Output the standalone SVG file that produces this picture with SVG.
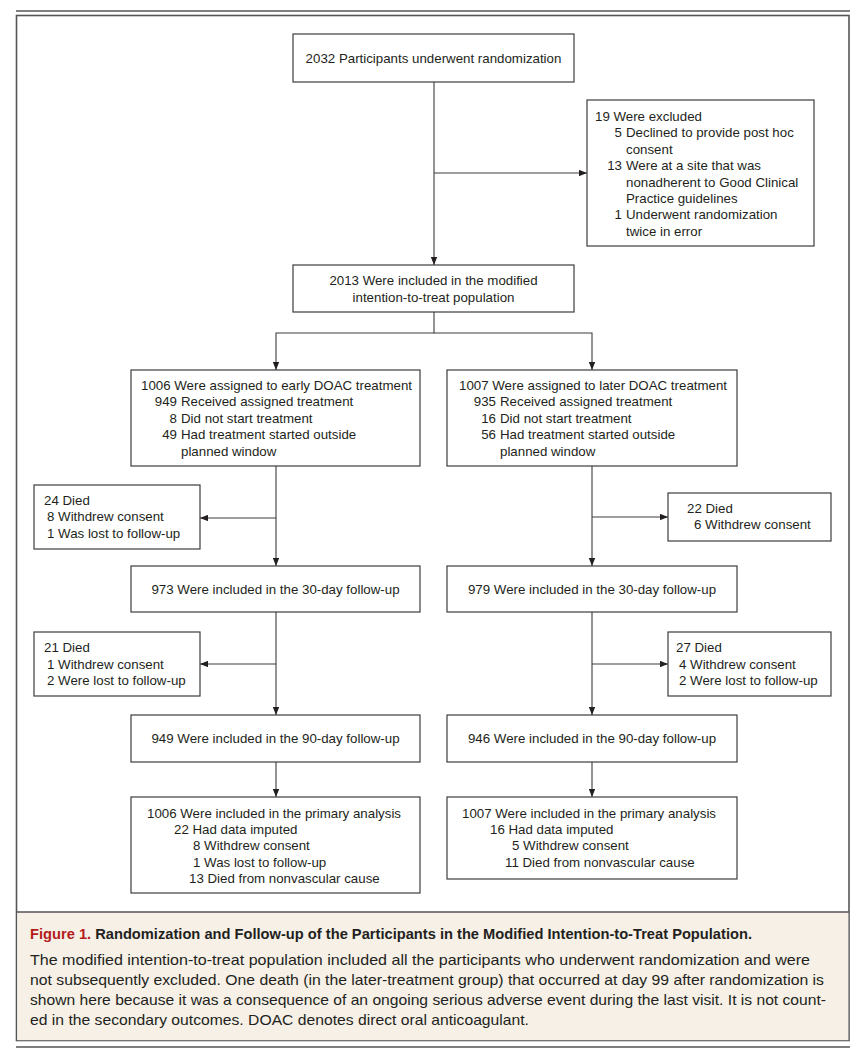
<svg xmlns="http://www.w3.org/2000/svg" width="865" height="1061" viewBox="0 0 865 1061">
<style>
.box{fill:#fff;stroke:#3c3c3c;stroke-width:1.2}
.t{font-family:"Liberation Sans",Arial,sans-serif;font-size:13.3px;fill:#231f20}
.c{text-anchor:middle}
.e{text-anchor:end}
.ln{fill:none;stroke:#3c3c3c;stroke-width:1.1}
.cap{font-family:"Liberation Sans",Arial,sans-serif;font-size:15px;fill:#231f20}
</style>
<defs>
<marker id="ah" viewBox="0 0 10 8" refX="10" refY="4" markerWidth="8" markerHeight="6.4" markerUnits="userSpaceOnUse" orient="auto">
<path d="M0,0 L10,4 L0,8 Z" fill="#231f20"/>
</marker>
</defs>
<rect x="0" y="0" width="865" height="1061" fill="#fff"/>
<line x1="16" y1="11" x2="850" y2="11" stroke="#555" stroke-width="1.6"/>
<rect x="16.5" y="15.5" width="832.5" height="1025" fill="none" stroke="#555" stroke-width="1.6"/>
<rect x="17.3" y="912" width="831" height="128.2" fill="#f6f0e7"/>
<line x1="16.5" y1="912" x2="849" y2="912" stroke="#555" stroke-width="1.6"/>
<line x1="16" y1="1047" x2="850" y2="1047" stroke="#555" stroke-width="1.6"/>

<g id="connectors">
<line class="ln" x1="434" y1="82" x2="434" y2="265" marker-end="url(#ah)"/>
<line class="ln" x1="434" y1="173" x2="587" y2="173" marker-end="url(#ah)"/>
<polyline class="ln" points="434,312 434,333 276,333 276,370" marker-end="url(#ah)"/>
<polyline class="ln" points="434,333 592,333 592,370" marker-end="url(#ah)"/>
<line class="ln" x1="276" y1="466" x2="276" y2="566" marker-end="url(#ah)"/>
<line class="ln" x1="276" y1="518" x2="200" y2="518" marker-end="url(#ah)"/>
<line class="ln" x1="592" y1="466" x2="592" y2="566" marker-end="url(#ah)"/>
<line class="ln" x1="592" y1="517" x2="668" y2="517" marker-end="url(#ah)"/>
<line class="ln" x1="276" y1="612" x2="276" y2="715" marker-end="url(#ah)"/>
<line class="ln" x1="276" y1="664" x2="200" y2="664" marker-end="url(#ah)"/>
<line class="ln" x1="592" y1="612" x2="592" y2="715" marker-end="url(#ah)"/>
<line class="ln" x1="592" y1="664" x2="668" y2="664" marker-end="url(#ah)"/>
<line class="ln" x1="276" y1="762" x2="276" y2="797" marker-end="url(#ah)"/>
<line class="ln" x1="592" y1="762" x2="592" y2="797" marker-end="url(#ah)"/>
</g>

<g id="n-randomized">
<rect class="box" x="293" y="34" width="281" height="48"/>
<text class="t c" x="433.5" y="62.5">2032 Participants underwent randomization</text>
</g>

<g id="n-excluded">
<rect class="box" x="587" y="100" width="227" height="146"/>
<text class="t" x="595" y="121">19 Were excluded</text>
<text class="t e" x="622" y="137.4">5</text>
<text class="t" x="626" y="137.4">Declined to provide post hoc</text>
<text class="t" x="626" y="153.8">consent</text>
<text class="t e" x="622" y="170.2">13</text>
<text class="t" x="626" y="170.2">Were at a site that was</text>
<text class="t" x="626" y="186.6">nonadherent to Good Clinical</text>
<text class="t" x="626" y="203">Practice guidelines</text>
<text class="t e" x="622" y="219.4">1</text>
<text class="t" x="626" y="219.4">Underwent randomization</text>
<text class="t" x="626" y="235.8">twice in error</text>
</g>

<g id="n-mitt">
<rect class="box" x="293" y="265" width="281" height="47"/>
<text class="t c" x="433.5" y="285">2013 Were included in the modified</text>
<text class="t c" x="433.5" y="301.5">intention-to-treat population</text>
</g>

<g id="n-early">
<rect class="box" x="131" y="370" width="289" height="96"/>
<text class="t" x="141" y="390">1006 Were assigned to early DOAC treatment</text>
<text class="t e" x="177" y="406.4">949</text>
<text class="t" x="181" y="406.4">Received assigned treatment</text>
<text class="t e" x="177" y="422.8">8</text>
<text class="t" x="181" y="422.8">Did not start treatment</text>
<text class="t e" x="177" y="439.2">49</text>
<text class="t" x="181" y="439.2">Had treatment started outside</text>
<text class="t" x="181" y="455.6">planned window</text>
</g>

<g id="n-later">
<rect class="box" x="447" y="370" width="290" height="96"/>
<text class="t" x="459" y="390">1007 Were assigned to later DOAC treatment</text>
<text class="t e" x="496" y="406.4">935</text>
<text class="t" x="500" y="406.4">Received assigned treatment</text>
<text class="t e" x="496" y="422.8">16</text>
<text class="t" x="500" y="422.8">Did not start treatment</text>
<text class="t e" x="496" y="439.2">56</text>
<text class="t" x="500" y="439.2">Had treatment started outside</text>
<text class="t" x="500" y="455.6">planned window</text>
</g>

<g id="n-early-loss30">
<rect class="box" x="34" y="485" width="166" height="64"/>
<text class="t" x="44" y="504.5">24 Died</text>
<text class="t" x="47" y="521">8 Withdrew consent</text>
<text class="t" x="47" y="537.5">1 Was lost to follow-up</text>
</g>

<g id="n-later-loss30">
<rect class="box" x="668" y="493" width="163" height="48"/>
<text class="t" x="687" y="512.5">22 Died</text>
<text class="t" x="694" y="529">6 Withdrew consent</text>
</g>

<g id="n-early-30">
<rect class="box" x="131" y="566" width="289" height="46"/>
<text class="t c" x="275.5" y="594">973 Were included in the 30-day follow-up</text>
</g>

<g id="n-later-30">
<rect class="box" x="447" y="566" width="290" height="46"/>
<text class="t c" x="592" y="594">979 Were included in the 30-day follow-up</text>
</g>

<g id="n-early-loss90">
<rect class="box" x="34" y="632" width="166" height="64"/>
<text class="t" x="44" y="652">21 Died</text>
<text class="t" x="47" y="668.5">1 Withdrew consent</text>
<text class="t" x="47" y="685">2 Were lost to follow-up</text>
</g>

<g id="n-later-loss90">
<rect class="box" x="668" y="632" width="163" height="64"/>
<text class="t" x="676" y="652">27 Died</text>
<text class="t" x="679" y="668.5">4 Withdrew consent</text>
<text class="t" x="679" y="685">2 Were lost to follow-up</text>
</g>

<g id="n-early-90">
<rect class="box" x="131" y="715" width="289" height="47"/>
<text class="t c" x="275.5" y="743">949 Were included in the 90-day follow-up</text>
</g>

<g id="n-later-90">
<rect class="box" x="447" y="715" width="290" height="47"/>
<text class="t c" x="592" y="743">946 Were included in the 90-day follow-up</text>
</g>

<g id="n-early-primary">
<rect class="box" x="131" y="797" width="289" height="96"/>
<text class="t" x="147" y="817.5">1006 Were included in the primary analysis</text>
<text class="t" x="174" y="833.9">22 Had data imputed</text>
<text class="t" x="193" y="850.3">8 Withdrew consent</text>
<text class="t" x="193" y="866.7">1 Was lost to follow-up</text>
<text class="t" x="189" y="883.1">13 Died from nonvascular cause</text>
</g>

<g id="n-later-primary">
<rect class="box" x="447" y="797" width="290" height="82"/>
<text class="t" x="462" y="817.5">1007 Were included in the primary analysis</text>
<text class="t" x="490" y="833.9">16 Had data imputed</text>
<text class="t" x="512" y="850.3">5 Withdrew consent</text>
<text class="t" x="505" y="866.7">11 Died from nonvascular cause</text>
</g>

<g id="caption">
<text class="cap" x="30" y="938.5" font-weight="bold" textLength="722" lengthAdjust="spacingAndGlyphs"><tspan fill="#b31b1b">Figure 1.</tspan> Randomization and Follow-up of the Participants in the Modified Intention-to-Treat Population.</text>
<text class="cap" x="30" y="965" textLength="780" lengthAdjust="spacingAndGlyphs">The modified intention-to-treat population included all the participants who underwent randomization and were</text>
<text class="cap" x="30" y="985" textLength="794" lengthAdjust="spacingAndGlyphs">not subsequently excluded. One death (in the later-treatment group) that occurred at day 99 after randomization is</text>
<text class="cap" x="30" y="1005" textLength="796" lengthAdjust="spacingAndGlyphs">shown here because it was a consequence of an ongoing serious adverse event during the last visit. It is not count-</text>
<text class="cap" x="30" y="1025" textLength="499" lengthAdjust="spacingAndGlyphs">ed in the secondary outcomes. DOAC denotes direct oral anticoagulant.</text>
</g>
</svg>
